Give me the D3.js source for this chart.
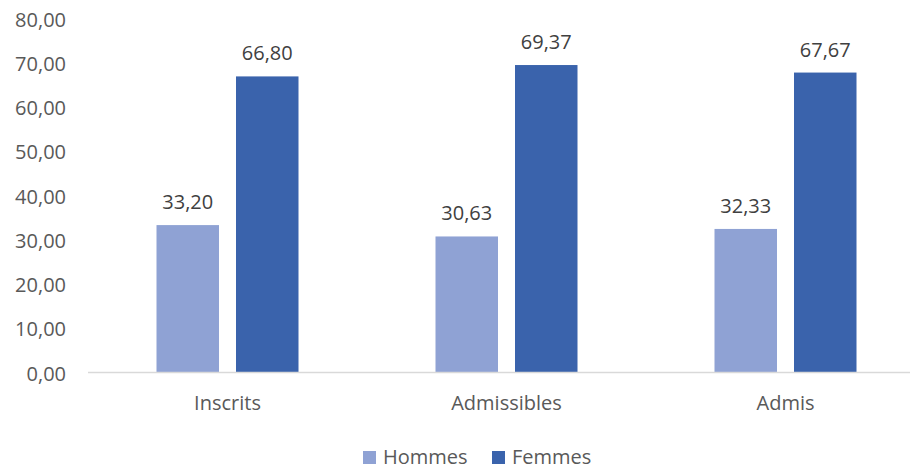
<!DOCTYPE html>
<html><head><meta charset="utf-8">
<script src="https://cdn.jsdelivr.net/npm/d3@7"></script>
<style>body{margin:0;background:#fff}svg{display:block}</style>
</head><body>
<script>
const categories = ["Inscrits", "Admissibles", "Admis"];
const seriesNames = ["Hommes", "Femmes"];
const hommes = [33.20, 30.63, 32.33];
const femmes = [66.80, 69.37, 67.67];
const yTicks = [0, 10, 20, 30, 40, 50, 60, 70, 80];
const colors = ["#8FA2D4", "#3A63AC"];

const W = 910, H = 471;
const font = "'Open Sans', sans-serif";
const svg = d3.select("body").append("svg").attr("width", W).attr("height", H);

const x = d3.scaleBand().domain(categories).range([88, 925]).padding(0);
const inner = d3.scaleBand().domain(seriesNames).range([-71, 71]).paddingInner(34/159);
const y = d3.scaleLinear().domain([0, 80]).range([372, 18]);
const fmt = v => d3.format(".2f")(v).replace(".", ",");

// y axis labels
const yAxis = d3.axisLeft(y).tickValues(yTicks).tickFormat(fmt).tickSize(0).tickPadding(0);
const gy = svg.append("g").attr("transform", "translate(66,0)").call(yAxis);
gy.select(".domain").remove();
gy.selectAll("text").attr("font-family", font).attr("font-size", 20).attr("fill", "#595959").attr("dy", "0.4em");

const data = [];
categories.forEach((c, i) => {
  data.push({cat: c, s: "Hommes", v: hommes[i], col: colors[0]});
  data.push({cat: c, s: "Femmes", v: femmes[i], col: colors[1]});
});

svg.selectAll("rect.bar").data(data).enter().append("rect").attr("class", "bar")
  .attr("x", d => x(d.cat) + x.bandwidth()/2 + inner(d.s))
  .attr("width", inner.bandwidth())
  .attr("y", d => y(d.v))
  .attr("height", d => y(0) - y(d.v))
  .attr("fill", d => d.col);

svg.selectAll("text.val").data(data).enter().append("text").attr("class", "val")
  .attr("x", d => x(d.cat) + x.bandwidth()/2 + inner(d.s) + inner.bandwidth()/2)
  .attr("y", d => y(d.v) - 16)
  .attr("text-anchor", "middle")
  .attr("font-family", font).attr("font-size", 20).attr("fill", "#404040")
  .text(d => fmt(d.v));

// x axis
const xAxis = d3.axisBottom(x).tickSize(0).tickPadding(0);
const gx = svg.append("g").attr("transform", `translate(0,${y(0)})`).call(xAxis);
gx.select(".domain").remove();
gx.selectAll("text").attr("font-family", font).attr("font-size", 20).attr("fill", "#595959").attr("dy", "1.9em");
svg.append("line").attr("x1", 88).attr("x2", 910).attr("y1", y(0) + 0.5).attr("y2", y(0) + 0.5)
  .attr("stroke", "#D9D9D9").attr("stroke-width", 1.5);

// legend
const legend = [{name: "Hommes", col: colors[0], x: 363}, {name: "Femmes", col: colors[1], x: 492}];
const lg = svg.selectAll("g.leg").data(legend).enter().append("g").attr("class", "leg")
  .attr("transform", d => `translate(${d.x},451)`);
lg.append("rect").attr("width", 13).attr("height", 13).attr("fill", d => d.col);
lg.append("text").attr("x", 20).attr("y", 13).attr("font-family", font).attr("font-size", 20)
  .attr("fill", "#595959").text(d => d.name);
</script>
</body></html>
